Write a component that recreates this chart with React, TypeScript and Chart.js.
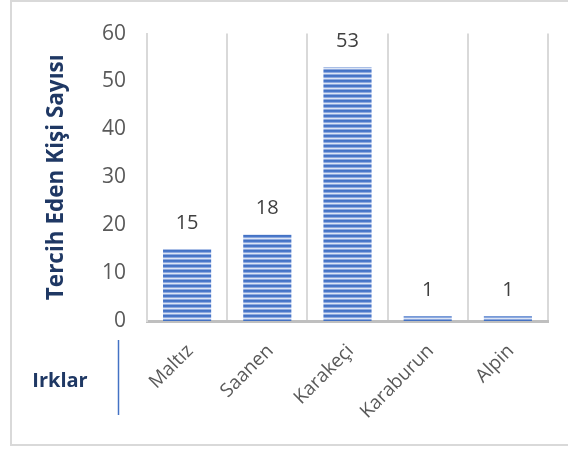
import React, { useEffect, useRef } from "react";
import { Chart, registerables } from "chart.js";

Chart.register(...registerables);

const categories = ["Maltız", "Saanen", "Karakeçi", "Karaburun", "Alpin"];
const values = [15, 18, 53, 1, 1];
const yTicks = [0, 10, 20, 30, 40, 50, 60];
const yTitle = "Tercih Eden Kişi Sayısı";
const xTitle = "Irklar";

const FONT = "'Open Sans', sans-serif";
const NAVY = "#1F3864";
const GREY_TEXT = "#595959";

function makePattern(): CanvasPattern | string {
  const c = document.createElement("canvas");
  c.width = 4;
  c.height = 5;
  const ctx = c.getContext("2d");
  if (!ctx) return "#4472C4";
  const rows = ["#4472C4", "#4A78CA", "#8CA8DE", "#DCE5F5", "#8CA8DE"];
  rows.forEach((col, i) => {
    ctx.fillStyle = col;
    ctx.fillRect(0, i, 4, 1);
  });
  return ctx.createPattern(c, "repeat") || "#4472C4";
}

const extrasPlugin = {
  id: "extras",
  afterDraw(chart: any) {
    const ctx = chart.ctx as CanvasRenderingContext2D;
    const meta = chart.getDatasetMeta(0);
    const xScale = chart.scales.x;
    const area = chart.chartArea;
    ctx.save();
    // data labels
    ctx.fillStyle = "#404040";
    ctx.font = `20px ${FONT}`;
    ctx.textAlign = "center";
    ctx.textBaseline = "middle";
    meta.data.forEach((bar: any, i: number) => {
      ctx.fillText(String(values[i]), bar.x, bar.y - 26);
    });
    // x tick labels (rotated 45°)
    ctx.fillStyle = GREY_TEXT;
    ctx.font = `19px ${FONT}`;
    ctx.textAlign = "right";
    ctx.textBaseline = "middle";
    categories.forEach((label, i) => {
      const x = xScale.getPixelForValue(i);
      ctx.save();
      ctx.translate(x + 3, area.bottom + 27);
      ctx.rotate(-Math.PI / 4);
      ctx.fillText(label, 0, 0);
      ctx.restore();
    });
    // y title
    ctx.save();
    ctx.translate(57, (area.top + area.bottom) / 2);
    ctx.rotate(-Math.PI / 2);
    ctx.fillStyle = NAVY;
    ctx.textAlign = "center";
    ctx.font = `bold 22.5px ${FONT}`;
    ctx.fillText(yTitle, 0, 0);
    ctx.restore();
    // x title
    ctx.fillStyle = NAVY;
    ctx.font = `bold 20px ${FONT}`;
    ctx.textAlign = "center";
    ctx.textBaseline = "middle";
    ctx.fillText(xTitle, 60, 381);
    // blue separator
    ctx.strokeStyle = "#4472C4";
    ctx.lineWidth = 1.5;
    ctx.beginPath();
    ctx.moveTo(118.5, 340);
    ctx.lineTo(118.5, 415);
    ctx.stroke();
    ctx.restore();
  },
};

export default function App() {
  const ref = useRef<HTMLCanvasElement | null>(null);
  useEffect(() => {
    if (!ref.current) return;
    const chart = new Chart(ref.current, {
      type: "bar",
      data: {
        labels: categories,
        datasets: [
          {
            data: values,
            backgroundColor: makePattern() as any,
            borderWidth: 0,
            categoryPercentage: 1,
            barPercentage: 0.6,
          },
        ],
      },
      options: {
        animation: false,
        responsive: false,
        maintainAspectRatio: false,
        layout: { padding: { top: 31, right: 20, left: 0, bottom: 0 } },
        plugins: {
          legend: { display: false },
          tooltip: { enabled: false },
        },
        scales: {
          x: {
            grid: {
              display: true,
              offset: true,
              color: "#D9D9D9",
              lineWidth: 2,
              drawTicks: false,
            },
            border: { display: true, color: "#BFBFBF", width: 3 },
            ticks: { display: false },
            afterFit: (s: any) => {
              s.height = 450 - 321;
            },
          },
          y: {
            min: 0,
            max: 60,
            afterBuildTicks: (s: any) => {
              s.ticks = yTicks.map((v) => ({ value: v }));
            },
            grid: { display: false, drawTicks: false },
            border: { display: true, color: "#D9D9D9", width: 2 },
            ticks: {
              color: GREY_TEXT,
              font: { family: FONT, size: 21 },
              padding: 21,
            },
            afterFit: (s: any) => {
              s.width = 147;
            },
          },
        },
      },
      plugins: [extrasPlugin],
    });
    return () => chart.destroy();
  }, []);
  return (
    <div
      style={{
        position: "fixed",
        left: 0,
        top: 0,
        width: 568,
        height: 450,
        background: "#fff",
      }}
    >
      <div
        style={{
          position: "absolute",
          left: 10,
          top: 0,
          width: 570,
          height: 446,
          border: "2px solid #D9D9D9",
          boxSizing: "border-box",
        }}
      />
      <canvas
        ref={ref}
        width={568}
        height={450}
        style={{ position: "absolute", left: 0, top: 0, width: 568, height: 450 }}
      />
    </div>
  );
}
